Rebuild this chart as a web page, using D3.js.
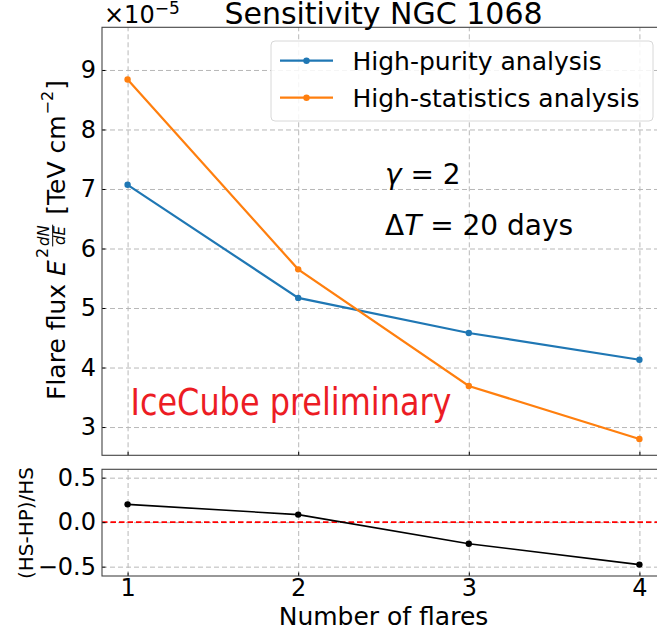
<!DOCTYPE html>
<html>
<head>
<meta charset="utf-8">
<script src="https://cdn.jsdelivr.net/npm/d3@7"></script>
<style>
  body { margin: 0; background: #fff; }
  svg { display: block; }
  text { font-family: "DejaVu Sans", sans-serif; fill: #000; white-space: pre; }
</style>
</head>
<body>
<svg id="chart" width="657" height="636"></svg>
<script>
// Data (flux in units of 1e-5)
const flares = [1, 2, 3, 4];
const highPurity = [7.07, 5.17, 4.58, 4.13];
const highStats = [8.84, 5.65, 3.69, 2.80];
const ratio = [0.20, 0.085, -0.242, -0.477];
const topTicks = [3, 4, 5, 6, 7, 8, 9];
const bottomTicks = [-0.5, 0, 0.5];
const seriesNames = ["High-purity analysis", "High-statistics analysis"];
const seriesColors = ["#1f77b4", "#ff7f0e"];

const svg = d3.select("#chart");

// panel layout
const left = 102, right = 665;
const top1 = 27.3, bottom1 = 455.3;
const top2 = 469.3, bottom2 = 576;

const x = d3.scaleLinear().domain([0.85, 4.15]).range([left, right]);
const yTop = d3.scaleLinear().domain([2.525, 9.717]).range([bottom1, top1]);
const yBot = d3.scaleLinear().domain([-0.605, 0.594]).range([bottom2, top2]);

function gridAndFrame(yScale, yTicks, y0, y1) {
	// vertical grid
	svg.append("g")
		.attr("transform", `translate(0,${y1})`)
		.call(d3.axisBottom(x).tickValues(flares).tickSize(-(y1 - y0)).tickFormat(""))
		.call(g => g.select(".domain").remove())
		.selectAll("line")
		.attr("stroke", "#b8b8b8")
		.attr("stroke-dasharray", "5,3");
	// horizontal grid
	svg.append("g")
		.attr("transform", `translate(${left},0)`)
		.call(d3.axisLeft(yScale).tickValues(yTicks).tickSize(-(right - left)).tickFormat(""))
		.call(g => g.select(".domain").remove())
		.selectAll("line")
		.attr("stroke", "#b8b8b8")
		.attr("stroke-dasharray", "5,3");
}

gridAndFrame(yTop, topTicks, top1, bottom1);
gridAndFrame(yBot, bottomTicks, top2, bottom2);

// ---- top panel ----
const line = d3.line().x((d, i) => x(flares[i])).y(d => yTop(d));
[highPurity, highStats].forEach((vals, k) => {
	svg.append("path")
		.datum(vals)
		.attr("d", line)
		.attr("fill", "none")
		.attr("stroke", seriesColors[k])
		.attr("stroke-width", 2.2);
	svg.selectAll(null)
		.data(vals)
		.enter()
		.append("circle")
		.attr("cx", (d, i) => x(flares[i]))
		.attr("cy", d => yTop(d))
		.attr("r", 3.2)
		.attr("fill", seriesColors[k]);
});

// ---- bottom panel ----
svg.append("line")
	.attr("x1", left).attr("x2", right)
	.attr("y1", yBot(0)).attr("y2", yBot(0))
	.attr("stroke", "#ff0000")
	.attr("stroke-width", 1.6)
	.attr("stroke-dasharray", "5.5,3");

const rline = d3.line().x((d, i) => x(flares[i])).y(d => yBot(d));
svg.append("path")
	.datum(ratio)
	.attr("d", rline)
	.attr("fill", "none")
	.attr("stroke", "#000")
	.attr("stroke-width", 1.6);
svg.selectAll(null)
	.data(ratio)
	.enter()
	.append("circle")
	.attr("cx", (d, i) => x(flares[i]))
	.attr("cy", d => yBot(d))
	.attr("r", 3.2)
	.attr("fill", "#000");

// ---- axes ----
function styleAxis(g, size) {
	g.select(".domain").remove();
	g.selectAll("line").attr("stroke", "#000").attr("stroke-width", 1);
	g.selectAll("text").attr("font-size", size).attr("font-family", "DejaVu Sans").attr("fill", "#000");
}

svg.append("g")
	.attr("transform", `translate(${left},0)`)
	.call(d3.axisLeft(yTop).tickValues(topTicks).tickSize(-3.5).tickPadding(6).tickFormat(d3.format("d")))
	.call(g => styleAxis(g, 24));

svg.append("g")
	.attr("transform", `translate(${left},0)`)
	.call(d3.axisLeft(yBot).tickValues(bottomTicks).tickSize(-3.5).tickPadding(6).tickFormat(d3.format(".1f")))
	.call(g => styleAxis(g, 24));

svg.append("g")
	.attr("transform", `translate(0,${bottom1})`)
	.call(d3.axisBottom(x).tickValues(flares).tickSize(-3.5).tickFormat(""))
	.call(g => styleAxis(g, 24));

svg.append("g")
	.attr("transform", `translate(0,${bottom2})`)
	.call(d3.axisBottom(x).tickValues(flares).tickSize(-3.5).tickPadding(3).tickFormat(d3.format("d")))
	.call(g => styleAxis(g, 24));

// spines
[[top1, bottom1], [top2, bottom2]].forEach(([a, b]) => {
	svg.append("rect")
		.attr("x", left).attr("y", a)
		.attr("width", right - left).attr("height", b - a)
		.attr("fill", "none")
		.attr("stroke", "#444")
		.attr("stroke-width", 1.1);
});

// ---- legend ----
const legend = svg.append("g");
legend.append("rect")
	.attr("x", 271).attr("y", 41)
	.attr("width", 382).attr("height", 80)
	.attr("rx", 4)
	.attr("fill", "#fff").attr("fill-opacity", 0.85)
	.attr("stroke", "#d8d8d8");
seriesNames.forEach((name, k) => {
	const ly = 60.7 + k * 37;
	legend.append("line")
		.attr("x1", 280).attr("x2", 333)
		.attr("y1", ly).attr("y2", ly)
		.attr("stroke", seriesColors[k]).attr("stroke-width", 2.2);
	legend.append("circle")
		.attr("cx", 306.5).attr("cy", ly).attr("r", 3.2)
		.attr("fill", seriesColors[k]);
	legend.append("text")
		.attr("x", 352.5).attr("y", ly + 9)
		.attr("font-size", 25)
		.text(name);
});

// ---- texts ----
svg.append("text")
	.attr("x", (left + right) / 2).attr("y", 24)
	.attr("text-anchor", "middle")
	.attr("font-size", 30)
	.text("Sensitivity NGC 1068");

const off = svg.append("text").attr("x", 104).attr("y", 22.5).attr("font-size", 24);
off.append("tspan").text("×10");
off.append("tspan").attr("font-size", 17).attr("dy", -9).text("−5");

const g1 = svg.append("text").attr("x", 385).attr("y", 184).attr("font-size", 28);
g1.append("tspan").attr("font-style", "italic").text("γ");
g1.append("tspan").text(" = 2");

const g2 = svg.append("text").attr("x", 385).attr("y", 235).attr("font-size", 28);
g2.append("tspan").text("Δ");
g2.append("tspan").attr("font-style", "italic").text("T");
g2.append("tspan").text(" = 20 days");

svg.append("text")
	.attr("x", 130.5).attr("y", 415)
	.attr("font-family", "Lato, 'Open Sans', sans-serif")
	.attr("font-size", 37)
	.attr("fill", "#ec1c24")
	.style("fill", "#ec1c24")
	.attr("textLength", 321)
	.attr("lengthAdjust", "spacingAndGlyphs")
	.text("IceCube preliminary");

svg.append("text")
	.attr("x", (left + right) / 2).attr("y", 625)
	.attr("text-anchor", "middle")
	.attr("font-size", 25)
	.text("Number of flares");

svg.append("text")
	.attr("transform", `translate(33,523) rotate(-90)`)
	.attr("text-anchor", "middle")
	.attr("font-size", 20)
	.text("(HS-HP)/HS");

// top y label with math pieces, built in rotated local coordinates
const yl = svg.append("g");
let cx = 0;
function piece(txt, size, dy, italic) {
	const t = yl.append("text")
		.attr("x", cx).attr("y", dy)
		.attr("font-size", size)
		.attr("font-style", italic ? "italic" : "normal")
		.text(txt);
	const w = t.node().getComputedTextLength();
	return { t, w };
}
let p = piece("Flare flux ", 25, 0, false); cx += p.w;
p = piece("E", 25, 0, true); cx += p.w + 2;
p = piece("2", 16, -17, false); cx += p.w + 1.5;
const num = piece("dN", 15, -16, true);
const den = piece("dE", 15, 0, true);
const fw = Math.max(num.w, den.w) + 1;
num.t.attr("x", cx + (fw - num.w) / 2);
den.t.attr("x", cx + (fw - den.w) / 2);
yl.append("line")
	.attr("x1", cx).attr("x2", cx + fw)
	.attr("y1", -12.3).attr("y2", -12.3)
	.attr("stroke", "#000").attr("stroke-width", 1);
cx += fw + 2;
p = piece(" [TeV cm", 25, 0, false); cx += p.w + 1;
p = piece("−2", 16, -12, false); cx += p.w + 1;
p = piece("]", 25, 0, false); cx += p.w;
yl.attr("transform", `translate(65,${240 + cx / 2}) rotate(-90)`);
</script>
</body>
</html>
